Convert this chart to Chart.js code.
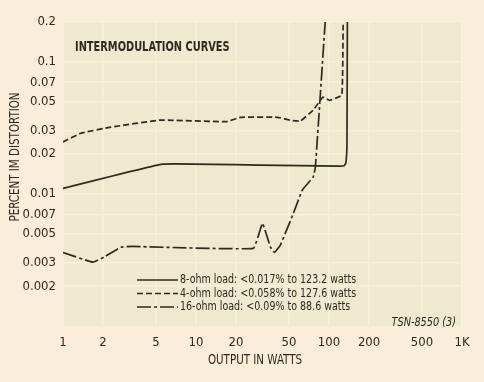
<!DOCTYPE html>
<html>
<head>
<meta charset="utf-8">
<script src="https://cdn.jsdelivr.net/npm/chart.js@4.4.1/dist/chart.umd.min.js"></script>
<style>
  html, body { margin: 0; padding: 0; background: #fbeed8; }
  #wrap { width: 484px; height: 382px; }
</style>
</head>
<body>
<div id="wrap"><canvas id="myChart" width="484" height="382"></canvas></div>
<script>
// tick values
const xTicks = [1, 2, 5, 10, 20, 50, 100, 200, 500, 1000];
const yTicks = [0.2, 0.1, 0.07, 0.05, 0.03, 0.02, 0.01, 0.007, 0.005, 0.003, 0.002];

// 8-ohm load (solid)
const ohm8Watts = [1, 5.6, 30, 120, 130, 134, 136.5, 137.5];
const ohm8Pct   = [0.0110, 0.0168, 0.0165, 0.0162, 0.0163, 0.0172, 0.024, 0.25];

// 4-ohm load (dashed)
const ohm4Watts = [1, 1.36, 2.29, 5.4, 17, 21.6, 41, 52, 61, 76, 90, 101, 125, 128];
const ohm4Pct   = [0.0247, 0.0288, 0.032, 0.0362, 0.0352, 0.038, 0.038, 0.036, 0.0356, 0.043, 0.054, 0.051, 0.056, 0.25];

// 16-ohm load (dash-dot)
const ohm16Watts = [1, 1.68, 2.03, 2.72, 3.35, 27, 31.6, 36.3, 38.9, 43.1, 54, 63, 76, 79, 95];
const ohm16Pct   = [0.0036, 0.00304, 0.00332, 0.00395, 0.0040, 0.00387, 0.0060, 0.00395, 0.0036, 0.0041, 0.00714, 0.0107, 0.0134, 0.0159, 0.25];

const legendLabels = [
    '8-ohm load: <0.017% to 123.2 watts',
    '4-ohm load: <0.058% to 127.6 watts',
    '16-ohm load: <0.09% to 88.6 watts'
];

const ink = '#2e2a22';
const narrow = '"Liberation Sans Narrow", "DejaVu Sans Condensed", sans-serif';

function pts(xs, ys) {
    return xs.map((x, i) => ({ x: x, y: ys[i] }));
}

// draw text squeezed horizontally, so it looks like the condensed face of the print
function squeezed(ctx, text, x, y, sx, align) {
    ctx.save();
    ctx.translate(x, y);
    ctx.scale(sx, 1);
    ctx.textAlign = align;
    ctx.fillText(text, 0, 0);
    ctx.restore();
}

const extras = {
    id: 'extras',
    beforeDraw(chart) {
        const { ctx, chartArea: a } = chart;
        ctx.save();
        ctx.fillStyle = '#eee9cf';
        ctx.fillRect(a.left, a.top, a.right - a.left, a.bottom - a.top);
        ctx.restore();
    },
    afterDraw(chart) {
        const { ctx } = chart;
        ctx.save();
        ctx.fillStyle = ink;
        ctx.textBaseline = 'middle';

        ctx.font = 'bold 14px ' + narrow;
        squeezed(ctx, 'INTERMODULATION CURVES', 75, 47, 0.78, 'left');

        // y axis title
        ctx.save();
        ctx.translate(15, 157);
        ctx.rotate(-Math.PI / 2);
        ctx.font = '14px ' + narrow;
        squeezed(ctx, 'PERCENT IM DISTORTION', 0, 0, 0.82, 'center');
        ctx.restore();

        ctx.font = '14px ' + narrow;
        squeezed(ctx, 'OUTPUT IN WATTS', 255, 360, 0.82, 'center');

        ctx.font = 'italic 12px ' + narrow;
        squeezed(ctx, 'TSN-8550 (3)', 456, 323, 0.9, 'right');

        // legend
        ctx.font = '12px ' + narrow;
        chart.data.datasets.forEach((ds, i) => {
            const y = 280 + i * 13.5;
            ctx.beginPath();
            ctx.setLineDash(ds.borderDash || []);
            ctx.lineWidth = 1.3;
            ctx.strokeStyle = ink;
            ctx.moveTo(137, y);
            ctx.lineTo(178, y);
            ctx.stroke();
            ctx.setLineDash([]);
            squeezed(ctx, legendLabels[i], 180, y, 0.88, 'left');
        });
        ctx.restore();
    }
};

const ctx = document.getElementById('myChart').getContext('2d');

new Chart(ctx, {
    type: 'line',
    data: {
        datasets: [
            { label: '8-ohm', data: pts(ohm8Watts, ohm8Pct), borderDash: [] },
            { label: '4-ohm', data: pts(ohm4Watts, ohm4Pct), borderDash: [6, 3] },
            { label: '16-ohm', data: pts(ohm16Watts, ohm16Pct), borderDash: [14, 3, 3, 3] }
        ].map(d => Object.assign(d, {
            borderColor: ink,
            borderWidth: 1.7,
            pointRadius: 0,
            tension: 0.08,
            fill: false
        }))
    },
    options: {
        responsive: false,
        animation: false,
        events: [],
        layout: { padding: { top: 22, right: 22, left: 0, bottom: 0 } },
        plugins: {
            legend: { display: false },
            tooltip: { enabled: false }
        },
        scales: {
            x: {
                type: 'logarithmic',
                min: 1,
                max: 1000,
                border: { display: false },
                grid: { color: '#f7f2de', lineWidth: 1.5, drawTicks: false },
                afterBuildTicks: s => { s.ticks = xTicks.map(v => ({ value: v })); },
                afterFit: s => { s.height = 56; },
                ticks: {
                    padding: 9,
                    color: ink,
                    font: { family: narrow, size: 13 },
                    autoSkip: false,
                    maxRotation: 0,
                    callback: v => v === 1000 ? '1K' : String(v)
                }
            },
            y: {
                type: 'logarithmic',
                min: 0.001,
                max: 0.2,
                border: { display: false },
                grid: { color: '#f7f2de', lineWidth: 1.5, drawTicks: false },
                afterBuildTicks: s => { s.ticks = yTicks.map(v => ({ value: v })); },
                afterFit: s => { s.width = 63; },
                ticks: {
                    padding: 7,
                    color: ink,
                    font: { family: narrow, size: 13 },
                    autoSkip: false,
                    callback: v => String(v)
                }
            }
        }
    },
    plugins: [extras]
});
</script>
</body>
</html>
